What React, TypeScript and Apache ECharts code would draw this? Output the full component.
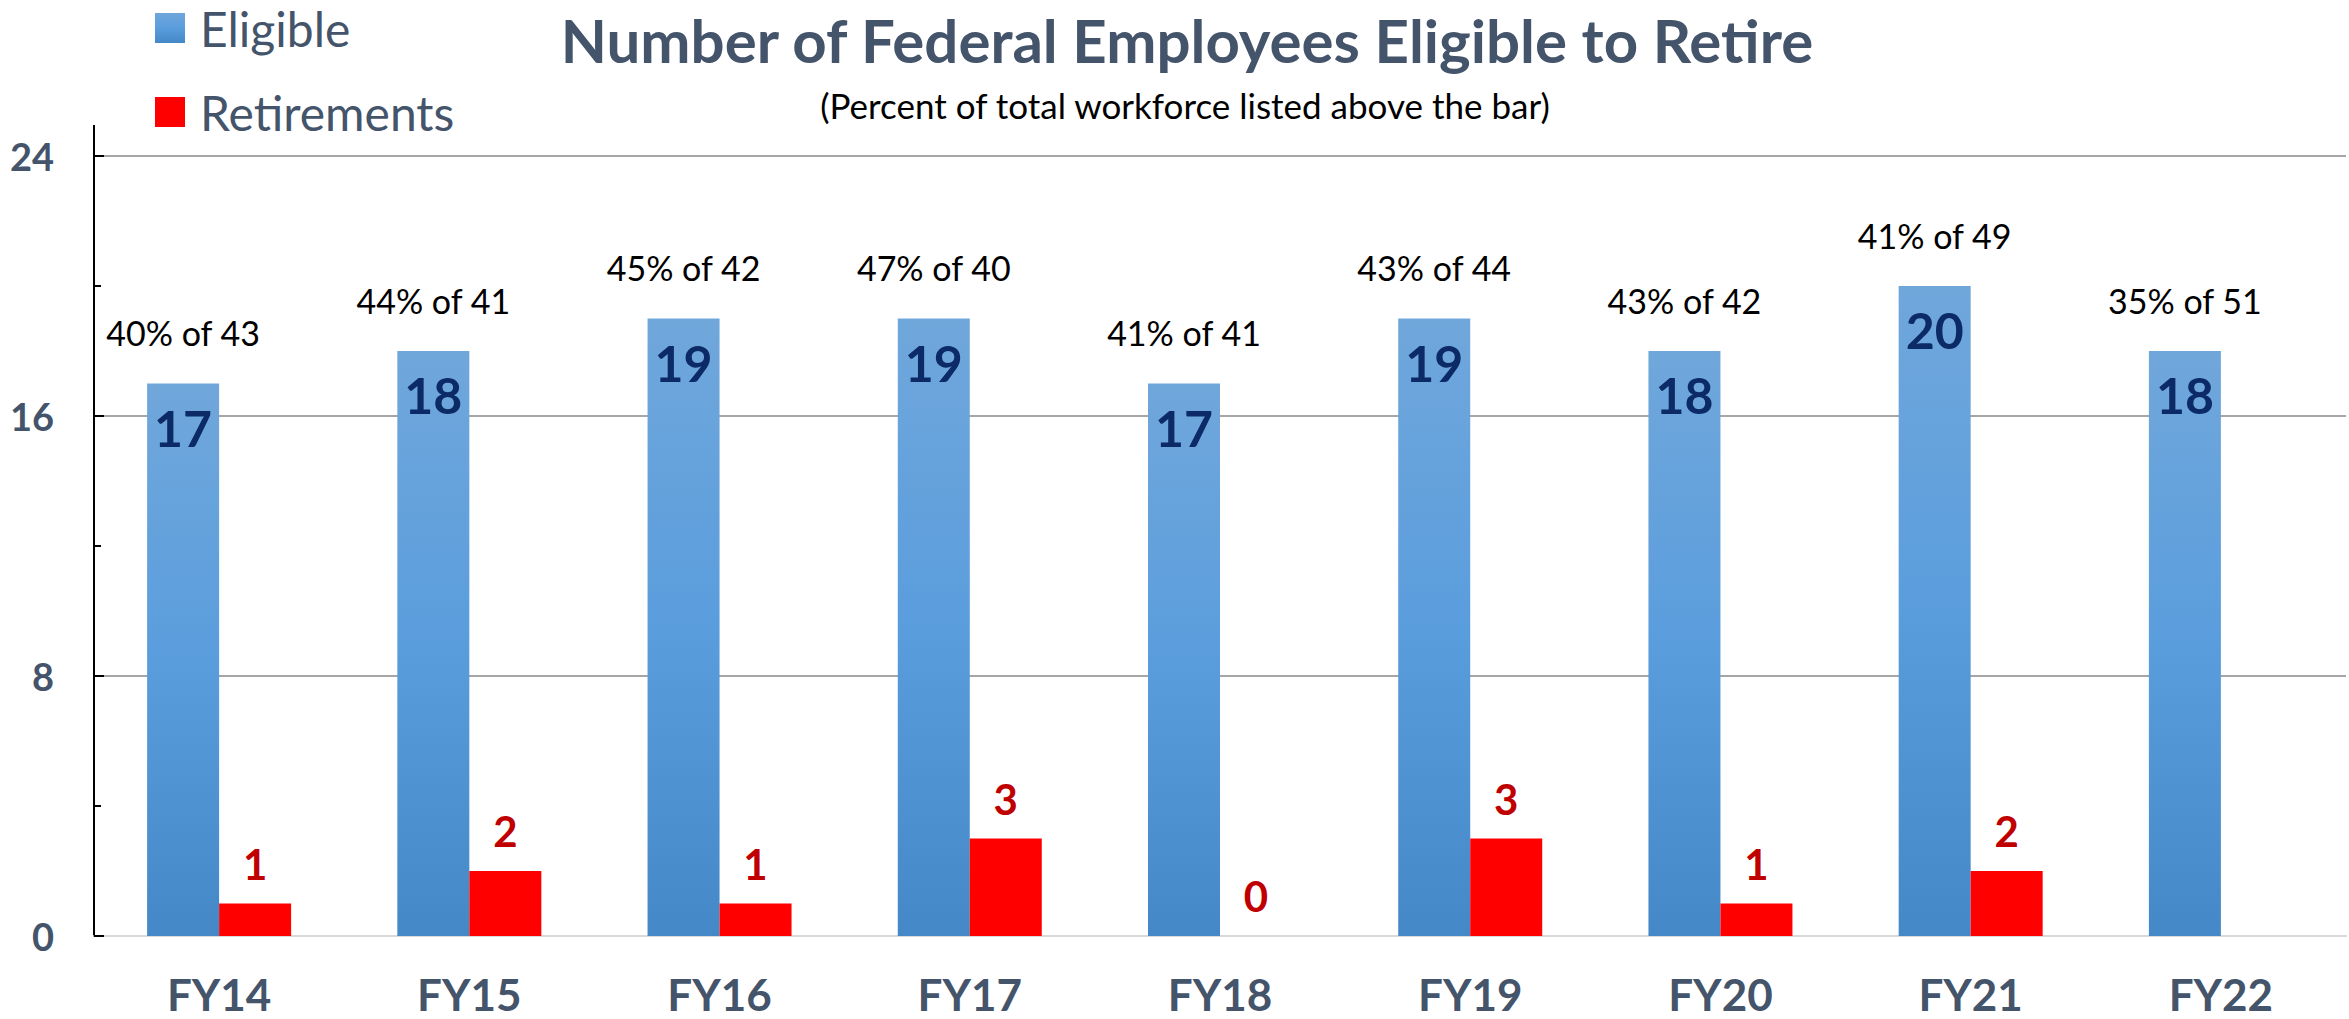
import React, { useEffect, useRef } from "react";
import * as echarts from "echarts";

const categories = ["FY14", "FY15", "FY16", "FY17", "FY18", "FY19", "FY20", "FY21", "FY22"];
const eligible = [17, 18, 19, 19, 17, 19, 18, 20, 18];
const retirements: (number | string)[] = [1, 2, 1, 3, 0, 3, 1, 2, "-"];
const pctOfWorkforce = [40, 44, 45, 47, 41, 43, 43, 41, 35];
const totalWorkforce = [43, 41, 42, 40, 41, 44, 42, 49, 51];
const yTicks = { min: 0, max: 24, interval: 8 };

const FONT = "Lato, 'Open Sans', sans-serif";
const SLATE = "#44546a";

export default function App() {
  const ref = useRef<HTMLDivElement>(null);
  useEffect(() => {
    if (!ref.current) return;
    const chart = echarts.init(ref.current, undefined, { renderer: "svg" });
    const blue = new echarts.graphic.LinearGradient(0, 0, 0, 1, [
      { offset: 0, color: "#70a7db" },
      { offset: 0.5, color: "#5a9ddd" },
      { offset: 1, color: "#4488c7" },
    ]);
    chart.setOption({
      animation: false,
      textStyle: { fontFamily: FONT },
      grid: { left: 94, right: 3, top: 156, bottom: 83, containLabel: false },
      legend: {
        data: ["Eligible", "Retirements"],
        orient: "vertical",
        left: 150,
        top: -1,
        itemWidth: 30,
        itemHeight: 30,
        itemGap: 36,
        icon: "rect",
        textStyle: { fontSize: 48, color: SLATE, fontFamily: FONT, padding: [0, 0, 0, 10] },
      },
      graphic: [
        {
          type: "text",
          x: 1187,
          y: 10,
          style: {
            text: "Number of Federal Employees Eligible to Retire",
            font: `bold 60px ${FONT}`,
            fill: SLATE,
            textAlign: "center",
            textVerticalAlign: "top",
          },
        },
        {
          type: "text",
          x: 1185,
          y: 87,
          style: {
            text: "(Percent of total workforce listed above the bar)",
            font: `35px ${FONT}`,
            fill: "#000",
            textAlign: "center",
            textVerticalAlign: "top",
          },
        },
        {
          type: "line",
          shape: { x1: 94, y1: 125, x2: 94, y2: 157 },
          style: { stroke: "#000", lineWidth: 2 },
        },
      ],
      xAxis: {
        type: "category",
        data: categories,
        axisLine: { show: true, lineStyle: { color: "#d9d9d9", width: 2 } },
        axisTick: { show: false },
        axisLabel: { fontSize: 44, fontWeight: "bold", color: SLATE, margin: 36, fontFamily: FONT },
      },
      yAxis: {
        type: "value",
        min: yTicks.min,
        max: yTicks.max,
        interval: yTicks.interval,
        axisLine: { show: true, lineStyle: { color: "#000", width: 2 } },
        axisTick: { show: true, inside: true, length: 10, lineStyle: { color: "#000", width: 2 } },
        minorTick: { show: true, splitNumber: 2, length: 7, lineStyle: { color: "#000", width: 2 } },
        splitLine: { show: true, lineStyle: { color: "#a6a6a6", width: 2 } },
        axisLabel: { fontSize: 38, fontWeight: "bold", color: SLATE, margin: 40, fontFamily: FONT },
      },
      series: [
        {
          name: "Eligible",
          type: "bar",
          stack: "elig",
          data: eligible,
          barWidth: 72,
          barGap: "0%",
          itemStyle: { color: blue },
          label: {
            show: true,
            position: "insideTop",
            distance: 19,
            fontSize: 50,
            fontWeight: "bold",
            color: "#0b2a66",
            fontFamily: FONT,
          },
        },
        {
          name: "pct",
          type: "bar",
          stack: "elig",
          data: categories.map(() => 0),
          barWidth: 72,
          itemStyle: { color: "rgba(0,0,0,0)" },
          label: {
            show: true,
            position: "top",
            distance: 34,
            fontSize: 34,
            color: "#000",
            fontFamily: FONT,
            formatter: (p: any) => `${pctOfWorkforce[p.dataIndex]}% of ${totalWorkforce[p.dataIndex]}`,
          },
        },
        {
          name: "Retirements",
          type: "bar",
          data: retirements,
          barWidth: 72,
          barGap: "0%",
          itemStyle: { color: "#ff0000" },
          label: {
            show: true,
            position: "top",
            distance: 19,
            fontSize: 42,
            fontWeight: "bold",
            color: "#c00000",
            fontFamily: FONT,
          },
        },
      ],
    });
    return () => chart.dispose();
  }, []);
  return (
    <div
      ref={ref}
      style={{ position: "absolute", left: 0, top: 0, width: 2349, height: 1019, background: "#fff" }}
    />
  );
}
